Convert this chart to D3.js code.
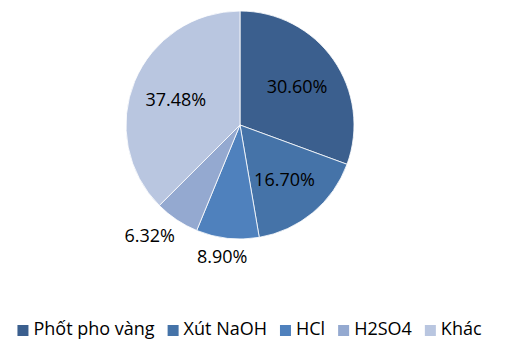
<!DOCTYPE html>
<html>
<head>
<meta charset="utf-8">
<script src="https://cdn.jsdelivr.net/npm/d3@7"></script>
<style>
  html, body { margin: 0; padding: 0; background: #fff; }
  svg { display: block; }
  text { font-family: "Open Sans", Lato, sans-serif; fill: #000; }
</style>
</head>
<body>
<svg id="chart" width="505" height="342"></svg>
<script>
// Chemical share (%)
const categories = ["Phốt pho vàng", "Xút NaOH", "HCl", "H2SO4", "Khác"];
const values = [30.60, 16.70, 8.90, 6.32, 37.48];
const colors = ["#3b5f8e", "#4573a8", "#4f81bd", "#94a9d0", "#b9c6e0"];

const W = 505, H = 342;
const cx = 240, cy = 125, R = 114;
const svg = d3.select("#chart");

const pie = d3.pie().sort(null).value(d => d)(values);
const arc = d3.arc().innerRadius(0).outerRadius(R);
const fmt = v => v.toFixed(2) + "%";

const g = svg.append("g").attr("transform", `translate(${cx},${cy})`);
g.selectAll("path.slice")
  .data(pie)
  .join("path")
  .attr("class", "slice")
  .attr("d", arc)
  .attr("fill", (d, i) => colors[i])
  .attr("stroke", "#fff")
  .attr("stroke-width", 0.8);

// Labels: large slices inside, small slices just outside the rim
const labelFont = 18;
pie.forEach((d, i) => {
  const mid = (d.startAngle + d.endAngle) / 2;
  const s = Math.sin(mid), c = -Math.cos(mid);
  const t = g.append("text")
    .attr("font-size", labelFont)
    .attr("text-anchor", "middle")
    .attr("dominant-baseline", "central")
    .text(fmt(d.value));
  if (d.value >= 10) {
    const r = R * 0.61;
    t.attr("x", s * r).attr("y", c * r + 1);
  } else {
    const bb = t.node().getBBox();
    const r = R + 6;
    t.attr("x", s * r + s * bb.width * 0.85)
     .attr("y", c * r + c * 12);
  }
});

// Legend
const legend = svg.append("g").attr("class", "legend");
const legendFont = 18;
let x = 0;
categories.forEach((name, i) => {
  const item = legend.append("g").attr("transform", `translate(${x},0)`);
  item.append("rect")
    .attr("x", 0).attr("y", -10)
    .attr("width", 11).attr("height", 11)
    .attr("fill", colors[i]);
  const t = item.append("text")
    .attr("x", 16).attr("y", 0)
    .attr("font-size", legendFont)
    .text(name);
  x += 16 + t.node().getComputedTextLength() + 13;
});
const lw = x - 13;
legend.attr("transform", `translate(${(W - lw) / 2 - 3},335)`);
</script>
</body>
</html>
